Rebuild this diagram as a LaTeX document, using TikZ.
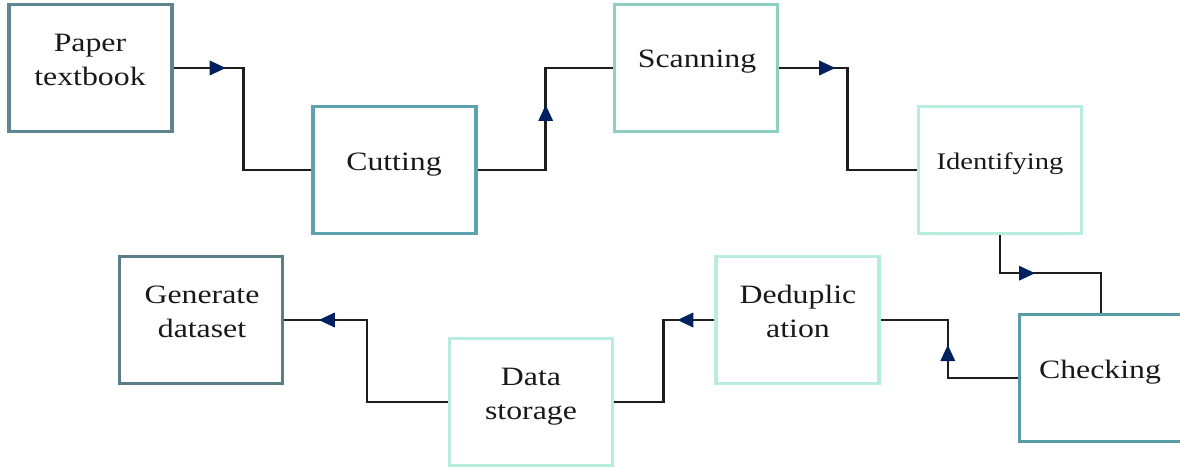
\documentclass[tikz,border=0pt]{standalone}
\usepackage{fontspec}
\setmainfont{Liberation Serif}[FakeStretch=1.2]
\usetikzlibrary{arrows.meta,decorations.markings}
\definecolor{cPaper}{RGB}{94,133,145}
\definecolor{cGen}{RGB}{90,125,135}
\definecolor{cCut}{RGB}{92,163,175}
\definecolor{cCheck}{RGB}{88,156,166}
\definecolor{cScan}{RGB}{141,208,191}
\definecolor{cLight}{RGB}{183,236,223}
\definecolor{cArrow}{RGB}{0,32,96}
\definecolor{cLine}{RGB}{30,30,30}
\newcommand{\twolines}[2]{\begin{tabular}[t]{@{}c@{}}#1\\#2\end{tabular}}
\tikzset{
  box/.style={draw, line width=3.4pt, minimum width=163pt, minimum height=127pt, inner sep=0pt},
  lbl/.style={anchor=base, inner sep=0pt, text=black!90, font=\fontsize{26.5}{34}\selectfont},
  conn/.style={draw=cLine, line width=2.6pt, postaction={decorate},
    decoration={markings, mark=at position #1 with {\arrow{Triangle[length=16pt,width=15pt,fill=cArrow,color=cArrow,line width=0pt]}}}}
}
\begin{document}
\begin{tikzpicture}[x=1pt,y=-1pt]
\useasboundingbox (0,0) rectangle (1180,470);
\clip (0,0) rectangle (1180,470);
% boxes
\node[box, draw=cPaper] (p) at (90.5,68) {};
\node[box, draw=cCut] (c) at (394.5,170) {};
\node[box, draw=cScan] (s) at (696,68) {};
\node[box, draw=cLight] (i) at (1000,170) {};
\node[box, draw=cCheck] (ch) at (1101,378) {};
\node[box, draw=cLight] (d) at (797.5,320) {};
\node[box, draw=cLight] (ds) at (531,402) {};
\node[box, draw=cGen] (g) at (201,320) {};
% labels
\node[lbl] (tp) at (90,52) {\twolines{Paper}{textbook}};
\node[lbl] (tc) at (394,171) {Cutting};
\node[lbl] (ts) at (697,68) {Scanning};
\node[lbl, font=\fontsize{23.8}{30}\selectfont] (ti) at (1000,170) {Identifying};
\node[lbl] (tch) at (1100,378) {Checking};
\node[lbl] (td) at (798,303) {\twolines{Deduplic}{ation}};
\node[lbl] (tds) at (531,385) {\twolines{Data}{storage}};
\node[lbl] (tg) at (202,303) {\twolines{Generate}{dataset}};
% connectors
\path[conn=52pt] (p.east) -- ++(70,0) |- (c.west);
\path[conn=133pt] (c.east) -- ++(68,0) |- (s.west);
\path[conn=56pt] (s.east) -- ++(68,0) |- (i.west);
\path[conn=73pt] (i.south) -- ++(0,38) -| (ch.north);
\path[conn=103pt] (ch.west) -- ++(-70,0) |- (d.east);
\path[conn=37pt] (d.west) -- ++(-51,0) |- (ds.east);
\path[conn=211pt] (ds.west) -- ++(-81,0) |- (g.east);
\end{tikzpicture}
\end{document}
